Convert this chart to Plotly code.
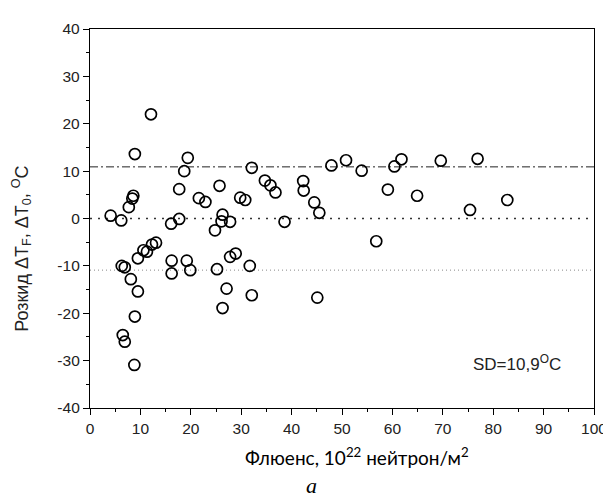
import plotly.graph_objects as go

# Fluence (10^22 n/m^2) and scatter of ΔT (°C)
fluence = [4.1, 6.2, 7.7, 8.6, 8.4, 8.9, 12.1, 16.1, 17.7, 17.7, 18.7, 19.4, 21.6, 22.9,
           24.8, 25.7, 26.3, 26.1, 27.8, 29.8, 30.8, 32.1, 34.7, 35.8, 36.8, 38.6, 42.3,
           42.4, 44.5, 45.5, 47.9, 50.8, 53.9, 59.1, 60.4, 61.8, 56.8, 64.9, 69.6, 75.4,
           76.9, 82.8, 6.3, 6.9, 8.1, 9.5, 8.9, 6.5, 6.9, 8.8, 9.5, 10.6, 11.3, 12.3, 13.1,
           16.2, 16.2, 19.2, 19.9, 25.2, 26.3, 27.1, 27.8, 28.9, 31.7, 32.1, 45.1]
scatter = [0.6, -0.4, 2.4, 4.8, 4.2, 13.6, 22.0, -1.1, -0.1, 6.2, 10.0, 12.8, 4.3, 3.5,
           -2.5, 6.9, 0.8, -0.6, -0.7, 4.4, 3.9, 10.7, 8.0, 7.0, 5.5, -0.7, 7.9,
           5.9, 3.4, 1.2, 11.2, 12.3, 10.1, 6.1, 11.0, 12.5, -4.8, 4.8, 12.2, 1.8,
           12.6, 3.9, -10.0, -10.3, -12.8, -15.4, -20.7, -24.6, -26.0, -30.9, -8.4, -6.7, -7.0, -5.5, -5.1,
           -8.9, -11.6, -8.9, -10.9, -10.7, -18.9, -14.8, -8.1, -7.4, -10.0, -16.2, -16.7]

sd_value = 10.9
ref_levels = [sd_value, 0, -sd_value]
ref_dash = ["8px,3px,2px,3px", "2px,6px", "1px,3px"]
ref_color = ["#222222", "#333333", "#888888"]
ref_width = [1, 1.6, 1]

x_ticks = [0, 10, 20, 30, 40, 50, 60, 70, 80, 90, 100]
y_ticks = [-40, -30, -20, -10, 0, 10, 20, 30, 40]
y_ticktext = [str(v) for v in y_ticks]

fig = go.Figure()
fig.add_trace(go.Scatter(
    x=fluence, y=scatter, mode="markers",
    marker=dict(symbol="circle-open", size=11, color="black", line=dict(width=1.7, color="black")),
    showlegend=False, cliponaxis=False,
))

for lvl, d, c, w in zip(ref_levels, ref_dash, ref_color, ref_width):
    fig.add_shape(type="line", xref="paper", x0=0, x1=1, yref="y", y0=lvl, y1=lvl,
                  line=dict(color=c, width=w, dash=d), layer="below")

font = "Liberation Sans, Arial, sans-serif"
axis_common = dict(
    showline=True, linecolor="black", linewidth=1.3, mirror=True,
    ticks="outside", ticklen=6, tickwidth=1.2, tickcolor="black",
    showgrid=False, zeroline=False,
    tickfont=dict(family=font, size=15.5, color="#222222"),
    minor=dict(ticks="outside", ticklen=3, tickwidth=1, tickcolor="black"),
)

fig.update_xaxes(range=[0, 100], tickvals=x_ticks, minor_dtick=5, **axis_common)
fig.update_yaxes(range=[-40, 40], tickvals=y_ticks, ticktext=y_ticktext, minor_dtick=5, **axis_common)

fig.add_annotation(
    text="Розкид ΔT<sub>F</sub>, ΔT<sub>0</sub>, <sup>O</sup>C",
    xref="paper", yref="paper", x=-0.135, y=0.42, textangle=-90,
    showarrow=False, font=dict(family=font, size=18, color="#222222"),
    xanchor="center", yanchor="middle",
)
fig.add_annotation(
    text="Флюенс, 10<sup>22</sup> нейтрон/м<sup>2</sup>",
    xref="paper", yref="paper", x=0.53, y=-0.128,
    showarrow=False, font=dict(family="Lato, sans-serif", size=19, color="black"),
    xanchor="center", yanchor="middle",
)
fig.add_annotation(
    text="<i>a</i>",
    xref="paper", yref="paper", x=0.44, y=-0.205,
    showarrow=False, font=dict(family="Liberation Serif, serif", size=22, color="black"),
    xanchor="center", yanchor="middle",
)
fig.add_annotation(
    text=f"SD={str(sd_value).replace('.', ',')}<sup>O</sup>C",
    xref="paper", yref="paper", x=0.847, y=0.12,
    showarrow=False, font=dict(family=font, size=17, color="#222222"),
    xanchor="center", yanchor="middle",
)

fig.update_layout(
    width=611, height=503,
    margin=dict(l=82, r=18, t=20, b=103),
    plot_bgcolor="white", paper_bgcolor="white",
)

fig.write_html("out.html")
